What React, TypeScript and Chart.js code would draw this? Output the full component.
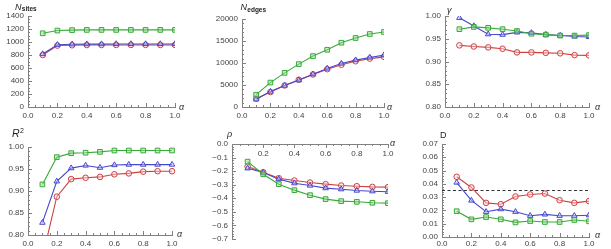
import React, { useEffect, useRef } from "react";
import { Chart, registerables } from "chart.js";
Chart.register(...registerables);

// ---------------- data ----------------
const ALPHA = [0.1, 0.2, 0.3, 0.4, 0.5, 0.6, 0.7, 0.8, 0.9, 1.0];

const NSITES_GREEN = [1134, 1176, 1183, 1186, 1186, 1186, 1186, 1186, 1186, 1186];
const NSITES_BLUE = [815, 958, 965, 967, 968, 970, 970, 970, 970, 970];
const NSITES_RED = [800, 945, 950, 953, 954, 955, 955, 955, 955, 955];

const NEDGES_GREEN = [2800, 5550, 7760, 9740, 11570, 13010, 14610, 15680, 16590, 17050];
const NEDGES_BLUE = [1750, 3500, 4870, 6090, 7460, 8750, 9890, 10650, 11260, 11800];
const NEDGES_RED = [1900, 3400, 4900, 6200, 7400, 8600, 9600, 10400, 11000, 11400];

const GAMMA_GREEN = [0.971, 0.976, 0.974, 0.971, 0.967, 0.961, 0.959, 0.957, 0.957, 0.958];
const GAMMA_BLUE = [0.996, 0.978, 0.96, 0.959, 0.964, 0.963, 0.959, 0.957, 0.955, 0.954];
const GAMMA_RED = [0.9355, 0.933, 0.931, 0.928, 0.92, 0.92, 0.919, 0.918, 0.914, 0.9135];

const R2_GREEN = [0.915, 0.977, 0.986, 0.987, 0.989, 0.992, 0.992, 0.992, 0.992, 0.992];
const R2_BLUE = [0.828, 0.922, 0.952, 0.958, 0.953, 0.959, 0.96, 0.96, 0.96, 0.96];
const R2_RED = [0.749, 0.887, 0.927, 0.93, 0.932, 0.938, 0.94, 0.944, 0.945, 0.945];

const RHO_GREEN = [-0.13, -0.223, -0.296, -0.34, -0.377, -0.406, -0.421, -0.426, -0.433, -0.436];
const RHO_BLUE = [-0.179, -0.21, -0.259, -0.289, -0.306, -0.325, -0.333, -0.343, -0.348, -0.352];
const RHO_RED = [-0.166, -0.208, -0.252, -0.269, -0.284, -0.296, -0.306, -0.311, -0.316, -0.318];

const D_GREEN = [0.0194, 0.0133, 0.015, 0.0133, 0.011, 0.012, 0.0113, 0.0113, 0.0128, 0.0118];
const D_BLUE = [0.041, 0.0275, 0.019, 0.021, 0.019, 0.016, 0.017, 0.016, 0.016, 0.0164];
const D_RED = [0.0453, 0.0373, 0.0257, 0.0247, 0.0305, 0.032, 0.0327, 0.0277, 0.0257, 0.027];
const D_CRITICAL = 0.035;

// ---------------- styles ----------------
const GREEN = "rgb(55,170,55)";
const BLUE = "rgb(70,70,205)";
const RED = "rgb(205,65,65)";
const GREEN_FILL = "rgba(150,215,150,0.45)";
const BLUE_FILL = "rgba(210,210,255,0.45)";
const RED_FILL = "rgba(255,215,215,0.45)";
const AXIS = "#808080";
const LABEL = "#444";
const FONT = '"Liberation Sans", Arial, sans-serif';

type Seg = { text: string; font: string; dy?: number };
type Series = { values: number[]; color: string; fill: string; style: string; radius: number };
interface Panel {
  key: string;
  box: [number, number, number, number];
  area: [number, number, number, number];
  yMin: number;
  yMax: number;
  yStep: number;
  yMinor: number;
  yFmt: (v: number) => string;
  xAxisAtZero?: boolean;
  series: Series[];
  dash?: number;
  clip?: any;
  title: Seg[];
  titleAt: [number, number];
  alphaAt: [number, number];
  xPad: number;
}

const trio = (g: number[], b: number[], r: number[]): Series[] => [
  { values: g, color: GREEN, fill: GREEN_FILL, style: "rect", radius: 3.3 },
  { values: b, color: BLUE, fill: BLUE_FILL, style: "triangle", radius: 3.2 },
  { values: r, color: RED, fill: RED_FILL, style: "circle", radius: 2.8 },
];

const minus = (s: string) => s.replace("-", "\u2212");
const SUB = `6.5px ${FONT}`;

const PANELS: Panel[] = [
  {
    key: "sites", box: [0, 0, 200, 120], area: [28, 16, 175, 107],
    yMin: 0, yMax: 1400, yStep: 200, yMinor: 50, yFmt: (v) => String(Math.round(v)),
    series: trio(NSITES_GREEN, NSITES_BLUE, NSITES_RED),
    title: [{ text: "N", font: `italic 9px ${FONT}` }, { text: "sites", font: `bold ${SUB}`, dy: 1.5 }],
    titleAt: [15, 9.5], alphaAt: [179, 110], xPad: 4,
  },
  {
    key: "edges", box: [200, 0, 200, 120], area: [242, 19, 384, 107],
    yMin: 0, yMax: 20000, yStep: 5000, yMinor: 1000, yFmt: (v) => String(Math.round(v)),
    series: trio(NEDGES_GREEN, NEDGES_BLUE, NEDGES_RED),
    title: [{ text: "N", font: `italic 9px ${FONT}` }, { text: "edges", font: `bold ${SUB}`, dy: 1.5 }],
    titleAt: [240.5, 10], alphaAt: [387, 110], xPad: 4,
  },
  {
    key: "gamma", box: [400, 0, 211, 120], area: [445, 16, 589, 107],
    yMin: 0.8, yMax: 1.0, yStep: 0.05, yMinor: 0.01, yFmt: (v) => v.toFixed(2),
    series: trio(GAMMA_GREEN, GAMMA_BLUE, GAMMA_RED),
    title: [{ text: "γ", font: `italic 9px ${FONT}` }],
    titleAt: [447, 13], alphaAt: [595, 110], xPad: 4,
  },
  {
    key: "r2", box: [0, 120, 200, 129], area: [28, 147, 172, 235],
    yMin: 0.8, yMax: 1.0, yStep: 0.05, yMinor: 0.01, yFmt: (v) => v.toFixed(2),
    series: trio(R2_GREEN, R2_BLUE, R2_RED),
    clip: { left: 8, right: 8, top: 8, bottom: 0 },
    title: [{ text: "R", font: `italic 10.5px ${FONT}` }, { text: "2", font: `7px ${FONT}`, dy: -4.5 }],
    titleAt: [12, 137], alphaAt: [177, 237], xPad: 4,
  },
  {
    key: "rho", box: [200, 120, 200, 129], area: [232, 144, 388, 239],
    yMin: -0.7, yMax: 0, yStep: 0.1, yMinor: 0.02, yFmt: (v) => minus(v.toFixed(1)),
    xAxisAtZero: true,
    series: trio(RHO_GREEN, RHO_BLUE, RHO_RED),
    title: [{ text: "ρ", font: `italic 9px ${FONT}` }],
    titleAt: [227, 137], alphaAt: [390, 146], xPad: 5,
  },
  {
    key: "D", box: [400, 120, 211, 129], area: [442, 144, 589, 237],
    yMin: 0, yMax: 0.07, yStep: 0.01, yMinor: 0.002, yFmt: (v) => v.toFixed(2),
    series: trio(D_GREEN, D_BLUE, D_RED), dash: D_CRITICAL,
    title: [{ text: "D", font: `9px ${FONT}` }],
    titleAt: [440, 138], alphaAt: [595, 238], xPad: 2,
  },
];

function PanelChart({ p }: { p: Panel }) {
  const ref = useRef<HTMLCanvasElement>(null);
  useEffect(() => {
    const [bl, bt, bw, bh] = p.box;
    const [al, at, ar, ab] = p.area;
    const yAxisW = al - bl;
    const padTop = at - bt;
    const padRight = bl + bw - ar;
    const xAxisH = p.xAxisAtZero ? 0 : bt + bh - ab;
    const padBottom = p.xAxisAtZero ? bt + bh - ab : 0;

    const datasets: any[] = p.series.map((s) => ({
      data: ALPHA.map((a, i) => ({ x: a, y: s.values[i] })),
      borderColor: s.color,
      borderWidth: 1.1,
      pointStyle: s.style,
      pointRadius: s.radius,
      pointBorderWidth: 1,
      pointBorderColor: s.color,
      pointBackgroundColor: s.fill,
      backgroundColor: s.fill,
      fill: false,
      tension: 0,
      clip: p.clip,
    }));
    if (p.dash !== undefined) {
      datasets.push({
        data: [{ x: 0, y: p.dash }, { x: 1, y: p.dash }],
        borderColor: "#333",
        borderWidth: 1,
        borderDash: [3, 2.5],
        pointRadius: 0,
        fill: false,
      });
    }

    const decor = {
      id: "decor_" + p.key,
      beforeDatasetsDraw(chart: any) {
        const ctx = chart.ctx;
        const xs = chart.scales.x;
        const ys = chart.scales.y;
        const ca = chart.chartArea;
        const axisY = p.xAxisAtZero ? Math.round(ys.getPixelForValue(0)) : Math.round(ca.bottom);
        const dir = p.xAxisAtZero ? 1 : -1;
        ctx.save();
        ctx.strokeStyle = AXIS;
        ctx.lineWidth = 1;
        ctx.beginPath();
        for (let i = 0; i <= 20; i++) {
          const v = i * 0.05;
          const len = i % 4 === 0 ? 4 : 2;
          const px = Math.round(xs.getPixelForValue(v)) + 0.5;
          ctx.moveTo(px, axisY);
          ctx.lineTo(px, axisY + dir * len);
        }
        const n = Math.round((p.yMax - p.yMin) / p.yMinor);
        const ratio = Math.round(p.yStep / p.yMinor);
        for (let i = 0; i <= n; i++) {
          const v = p.yMin + i * p.yMinor;
          const len = i % ratio === 0 ? 4 : 2;
          const py = Math.round(ys.getPixelForValue(v)) + 0.5;
          ctx.moveTo(ca.left, py);
          ctx.lineTo(ca.left + len, py);
        }
        ctx.stroke();
        ctx.restore();
      },
      afterDraw(chart: any) {
        const ctx = chart.ctx;
        ctx.save();
        ctx.fillStyle = "#222";
        ctx.textBaseline = "alphabetic";
        ctx.textAlign = "left";
        let x = p.titleAt[0] - bl;
        const y = p.titleAt[1] - bt;
        for (const s of p.title) {
          ctx.font = s.font;
          ctx.fillText(s.text, x, y + (s.dy || 0));
          x += ctx.measureText(s.text).width + 0.3;
        }
        ctx.font = `italic 9px ${FONT}`;
        ctx.fillStyle = "#333";
        ctx.fillText("α", p.alphaAt[0] - bl, p.alphaAt[1] - bt);
        ctx.restore();
      },
    };

    const chart = new Chart(ref.current as HTMLCanvasElement, {
      type: "line",
      data: { datasets },
      options: {
        animation: false,
        responsive: false,
        devicePixelRatio: 1,
        events: [],
        layout: { padding: { top: padTop, right: padRight, bottom: padBottom, left: 0 } },
        plugins: { legend: { display: false }, tooltip: { enabled: false }, title: { display: false } },
        scales: {
          x: {
            type: "linear",
            min: 0,
            max: 1,
            position: p.xAxisAtZero ? ({ y: 0 } as any) : "bottom",
            grid: { display: false, drawTicks: false },
            border: { display: true, color: AXIS, width: 1 },
            ticks: {
              stepSize: 0.2,
              autoSkip: false,
              maxRotation: 0,
              padding: p.xPad,
              color: LABEL,
              font: { family: FONT, size: 8 },
              callback: (v: any) => (p.xAxisAtZero && Math.abs(v) < 1e-9 ? "" : Number(v).toFixed(1)),
            },
            afterFit: (s: any) => {
              if (!p.xAxisAtZero) s.height = xAxisH;
            },
          },
          y: {
            type: "linear",
            min: p.yMin,
            max: p.yMax,
            position: "left",
            grid: { display: false, drawTicks: false },
            border: { display: true, color: AXIS, width: 1 },
            ticks: {
              stepSize: p.yStep,
              autoSkip: false,
              padding: 4,
              color: LABEL,
              font: { family: FONT, size: 8 },
              callback: (v: any) => p.yFmt(Number(v)),
            },
            afterFit: (s: any) => {
              s.width = yAxisW;
            },
          },
        },
      } as any,
      plugins: [decor as any],
    });
    return () => chart.destroy();
  }, []);
  const [bl, bt, bw, bh] = p.box;
  return (
    <canvas
      ref={ref}
      width={bw}
      height={bh}
      style={{ position: "absolute", left: bl, top: bt, width: bw, height: bh }}
    />
  );
}

export default function App() {
  return (
    <div style={{ position: "absolute", left: 0, top: 0, width: 611, height: 249, background: "#fff", overflow: "hidden" }}>
      {PANELS.map((p) => (
        <PanelChart key={p.key} p={p} />
      ))}
    </div>
  );
}
